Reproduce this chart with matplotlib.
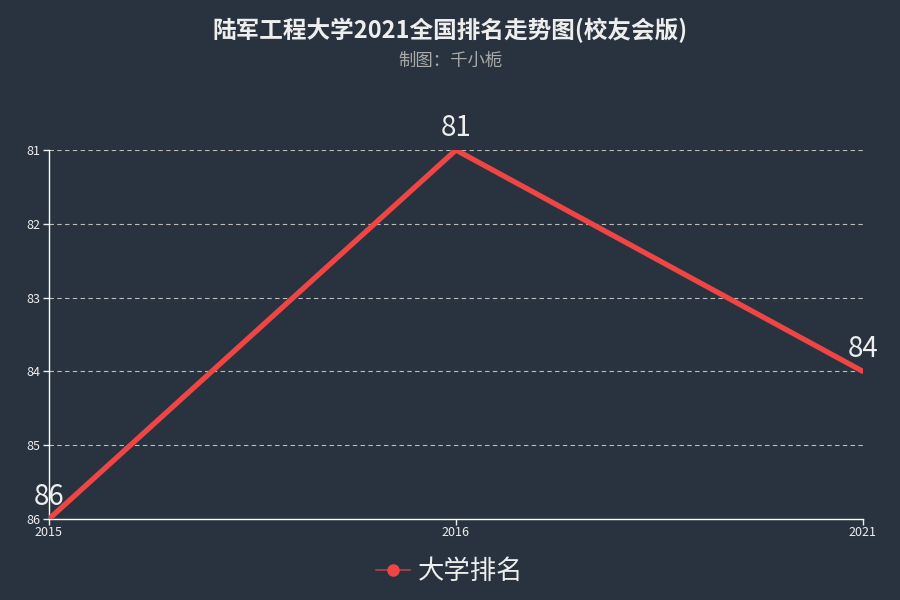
import matplotlib
matplotlib.use("Agg")
from matplotlib import pyplot as plt
from matplotlib.lines import Line2D

plt.rcParams['font.family'] = ['Noto Sans CJK SC', 'DejaVu Sans']

# Data
years = ['2015', '2016', '2021']
ranks = [86, 81, 84]
y_ticks = [81, 82, 83, 84, 85, 86]

BG = '#29333f'
LINE = '#ef4545'
TEXT = '#eeeeee'

fig = plt.figure(figsize=(9, 6), dpi=100, facecolor=BG)
ax = fig.add_axes([0.0544, 0.135, 0.9044, 0.615], facecolor=BG)

x = list(range(len(years)))
ax.plot(x, ranks, color=LINE, linewidth=3.8, solid_capstyle='round', zorder=3)

# value labels above each point
for xi, r in zip(x, ranks):
    ax.annotate(str(r), (xi, r), xytext=(0, 5), textcoords='offset points',
                ha='center', va='bottom', fontsize=20, color=TEXT, zorder=4)

ax.set_xlim(0, len(years) - 1)
ax.set_ylim(86, 81)
ax.set_xticks(x)
ax.set_xticklabels(years)
ax.set_yticks(y_ticks)
ax.set_yticklabels([str(v) for v in y_ticks])

# dashed grid, except the bottom axis line
for v in y_ticks[:-1]:
    ax.axhline(v, color='#bbbbbb', linestyle=(0, (4, 3)), linewidth=0.8, zorder=1)

for side in ['top', 'right']:
    ax.spines[side].set_visible(False)
for side in ['left', 'bottom']:
    ax.spines[side].set_color('#ffffff')
    ax.spines[side].set_linewidth(1)

ax.tick_params(axis='both', colors=TEXT, labelsize=9, length=4, width=1)
ax.tick_params(axis='x', pad=1)
ax.tick_params(axis='y', pad=2)

fig.text(0.5, 0.95, '陆军工程大学2021全国排名走势图(校友会版)', ha='center', va='center',
         fontsize=17, fontweight='bold', color=TEXT)
fig.text(0.5, 0.898, '制图：千小栀', ha='center', va='center', fontsize=12.5, color='#aaaaaa')

handle = Line2D([0], [0], color='#b84048', linewidth=1.2, marker='o', markersize=8,
                markerfacecolor=LINE, markeredgecolor=LINE)
leg = fig.legend([handle], ['大学排名'], loc='center', bbox_to_anchor=(0.5, 0.047),
                 frameon=False, fontsize=19, handlelength=1.3, handletextpad=0.3)
for t in leg.get_texts():
    t.set_color(TEXT)

fig.savefig('out.png', dpi=100, facecolor=BG)
plt.close(fig)
